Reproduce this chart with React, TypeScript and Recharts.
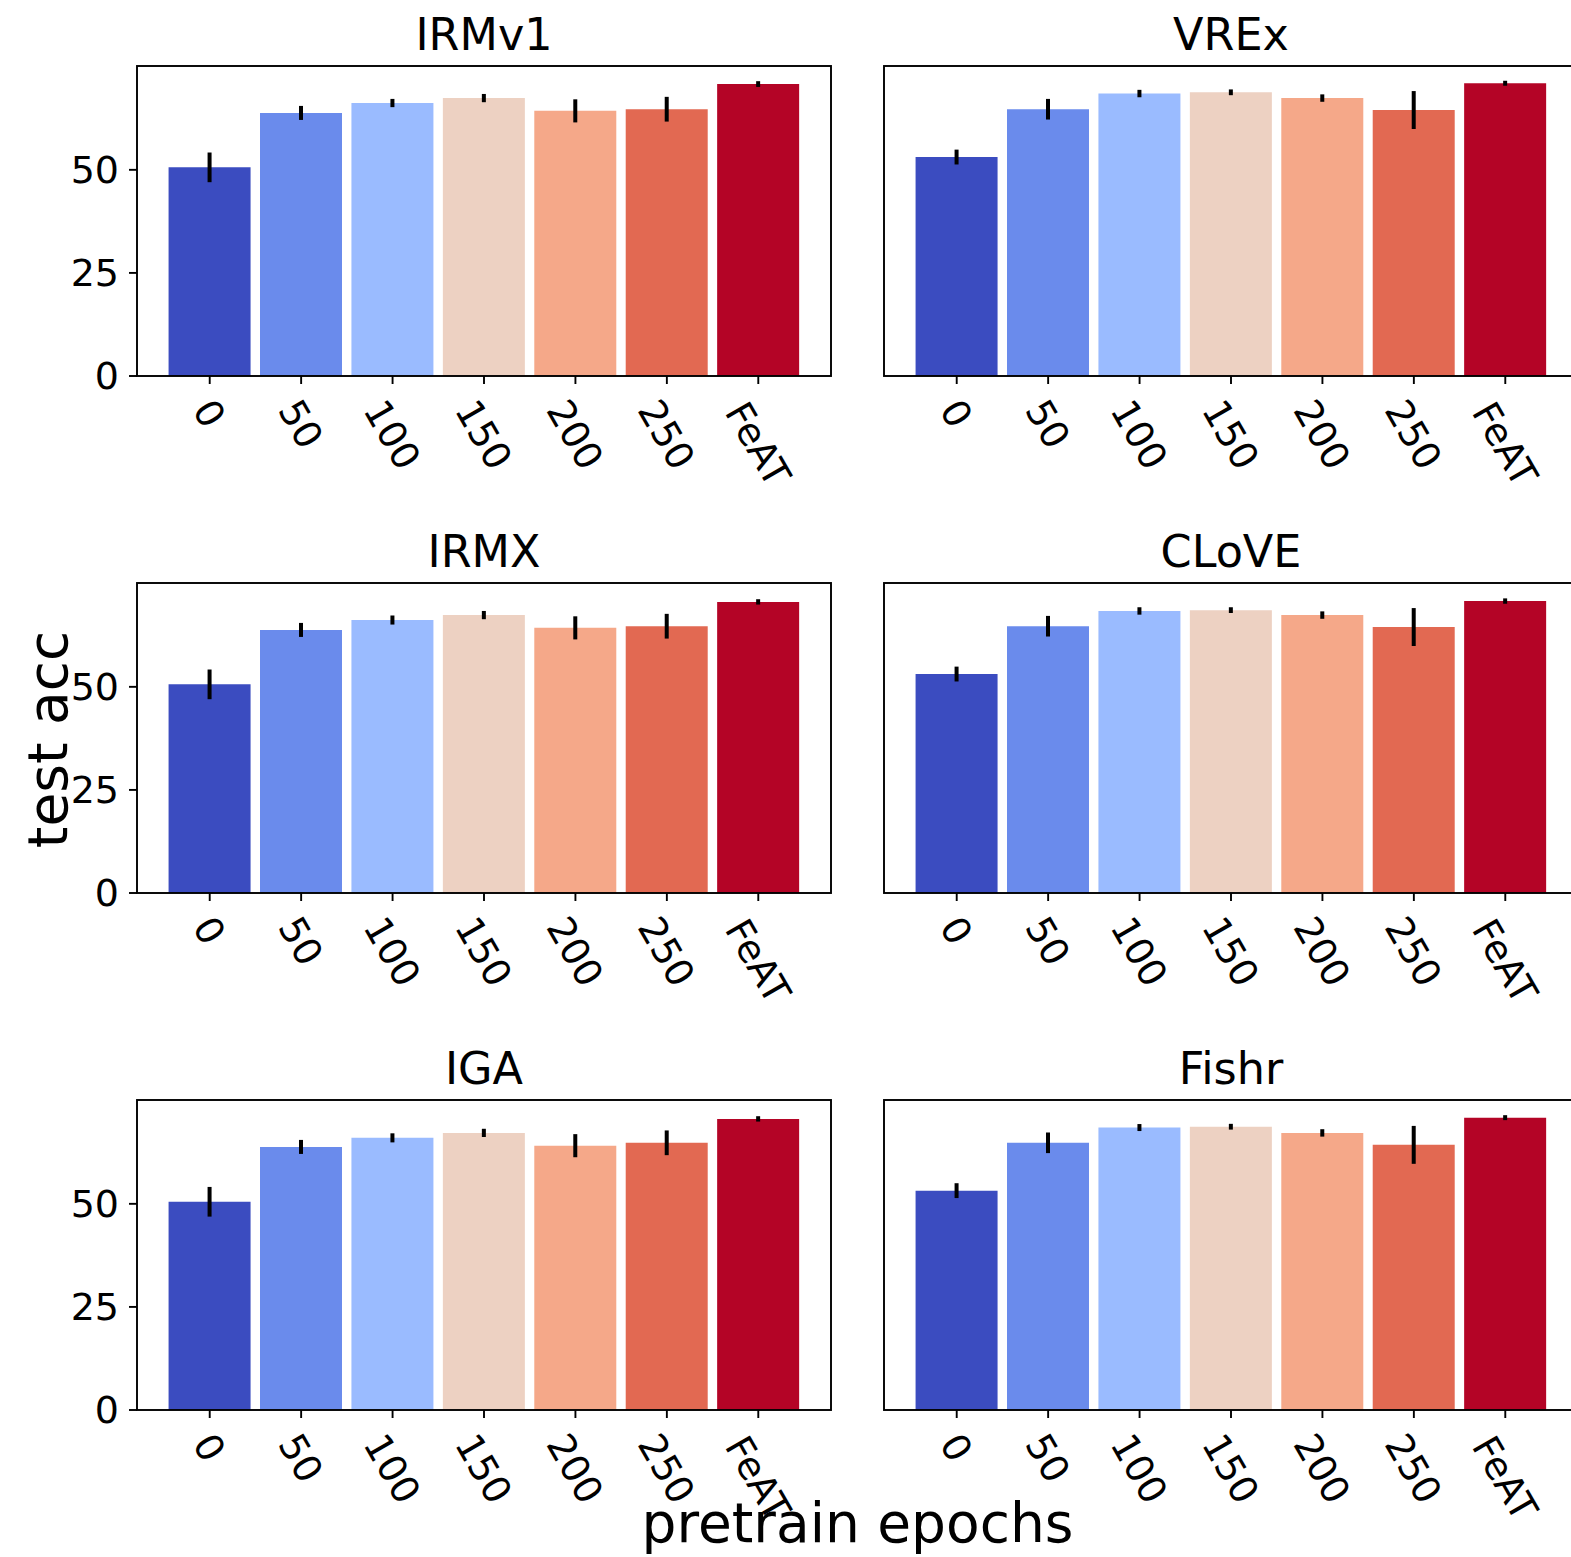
import { BarChart, Bar, XAxis, YAxis, Cell, ErrorBar } from 'recharts';

const epochs = ['0', '50', '100', '150', '200', '250', 'FeAT'];
const colors = ['#3b4cc0', '#6a8bec', '#9abbff', '#edd1c2', '#f5a889', '#e26952', '#b40426'];
const yTicks = [0, 25, 50];

const methods = ['IRMv1', 'VREx', 'IRMX', 'CLoVE', 'IGA', 'Fishr'];

const irmv1Acc = [50.6, 63.8, 66.2, 67.4, 64.3, 64.7, 70.8];
const irmv1Err = [3.6, 1.7, 1.0, 1.0, 2.8, 3.0, 0.7];
const vrexAcc = [53.1, 64.7, 68.5, 68.8, 67.4, 64.5, 71.0];
const vrexErr = [1.8, 2.5, 0.9, 0.7, 0.9, 4.6, 0.6];
const irmxAcc = [50.6, 63.8, 66.2, 67.4, 64.3, 64.7, 70.6];
const irmxErr = [3.6, 1.7, 1.1, 1.0, 2.8, 3.0, 0.65];
const cloveAcc = [53.1, 64.7, 68.4, 68.6, 67.4, 64.5, 70.8];
const cloveErr = [1.8, 2.5, 0.9, 0.7, 0.9, 4.6, 0.65];
const igaAcc = [50.5, 63.8, 66.0, 67.2, 64.1, 64.8, 70.6];
const igaErr = [3.6, 1.7, 1.1, 1.0, 2.8, 3.0, 0.65];
const fishrAcc = [53.2, 64.8, 68.5, 68.7, 67.2, 64.3, 70.9];
const fishrErr = [1.8, 2.5, 0.85, 0.7, 0.9, 4.6, 0.6];

const accs = [irmv1Acc, vrexAcc, irmxAcc, cloveAcc, igaAcc, fishrAcc];
const errs = [irmv1Err, vrexErr, irmxErr, cloveErr, igaErr, fishrErr];

// layout (px), matches the matplotlib subplot grid
const FONT = 'DejaVu Sans, sans-serif';
const TICK_FONT = 38;
const TITLE_FONT = 44.5;
const PLOT_W = 694;
const PLOT_H = 310;
const COL_LEFT = [137, 884];
const ROW_TOP = [66, 583, 1100];
const TOP_MARGIN = 10;
const X_AXIS_H = 120;
const ERR_W = 4;

// shared y: autoscaled to the tallest bar+err with a 5% margin
const yMax = Math.max(...accs.flatMap((a, i) => a.map((v, j) => v + errs[i][j]))) * 1.05;

const CHAR_W: Record<string, number> = {
  '0': 0.636, '1': 0.636, '2': 0.636, '5': 0.636,
  F: 0.575, e: 0.615, A: 0.684, T: 0.611,
};

function RotatedTick(props: any) {
  const { x, y, payload } = props;
  const label = String(payload.value);
  const w = [...label].reduce((s, c) => s + (CHAR_W[c] ?? 0.6), 0) * TICK_FONT;
  // matplotlib puts the rotated label's bbox centre right under the tick
  const cy = y + (w * 0.866 + 0.58 * TICK_FONT) / 2;
  return (
    <text
      transform={`translate(${x},${cy}) rotate(60)`}
      textAnchor="middle"
      dy="0.36em"
      fontSize={TICK_FONT}
      fontFamily={FONT}
      fill="#000"
    >
      {label}
    </text>
  );
}

function Panel({ idx }: { idx: number }) {
  const col = idx % 2;
  const row = Math.floor(idx / 2);
  const yAxisW = col === 0 ? 137 : 40;
  const data = epochs.map((name, i) => ({ name, value: accs[idx][i], err: errs[idx][i] }));

  return (
    <div
      style={{
        position: 'absolute',
        left: COL_LEFT[col] - yAxisW,
        top: ROW_TOP[row] - TOP_MARGIN,
      }}
    >
      <BarChart
        width={yAxisW + PLOT_W}
        height={TOP_MARGIN + PLOT_H + X_AXIS_H}
        data={data}
        margin={{ top: TOP_MARGIN, right: 0, bottom: 0, left: 0 }}
        barCategoryGap="5%"
      >
        <XAxis
          dataKey="name"
          interval={0}
          height={X_AXIS_H}
          padding={{ left: 27, right: 27 }}
          axisLine={false}
          tickSize={8}
          tickMargin={8}
          tickLine={{ stroke: '#000', strokeWidth: 1.9 }}
          tick={<RotatedTick />}
        />
        <YAxis
          type="number"
          width={yAxisW}
          domain={[0, yMax]}
          ticks={yTicks}
          axisLine={false}
          tickSize={8}
          tickMargin={10}
          tickLine={{ stroke: '#000', strokeWidth: 1.9 }}
          tick={col === 0 ? { fontSize: TICK_FONT, fontFamily: FONT, fill: '#000' } : false}
        />
        <Bar dataKey="value" isAnimationActive={false}>
          {data.map((_, i) => (
            <Cell key={i} fill={colors[i]} />
          ))}
          <ErrorBar
            dataKey="err"
            width={0}
            stroke="#000"
            strokeWidth={ERR_W}
            direction="y"
            isAnimationActive={false}
          />
        </Bar>
      </BarChart>
    </div>
  );
}

export default function App() {
  return (
    <div
      style={{
        position: 'absolute',
        left: 0,
        top: 0,
        width: 1571,
        height: 1557,
        overflow: 'hidden',
        background: '#fff',
      }}
    >
      {methods.map((_, i) => (
        <Panel key={i} idx={i} />
      ))}
      <svg
        width={1571}
        height={1557}
        style={{ position: 'absolute', left: 0, top: 0, pointerEvents: 'none' }}
      >
        {methods.map((m, i) => {
          const left = COL_LEFT[i % 2];
          const top = ROW_TOP[Math.floor(i / 2)];
          return (
            <g key={m}>
              <rect x={left} y={top} width={PLOT_W} height={PLOT_H} fill="none" stroke="#000" strokeWidth={1.9} />
              <text x={left + PLOT_W / 2} y={top - 16} textAnchor="middle" fontSize={TITLE_FONT} fontFamily={FONT} fill="#000">
                {m}
              </text>
            </g>
          );
        })}
        <text
          transform="translate(67,739.5) rotate(-90)"
          textAnchor="middle"
          fontSize={55}
          fontFamily={FONT}
          fill="#000"
        >
          test acc
        </text>
        <text x={857.5} y={1541.7} textAnchor="middle" fontSize={55} fontFamily={FONT} fill="#000">
          pretrain epochs
        </text>
      </svg>
    </div>
  );
}
